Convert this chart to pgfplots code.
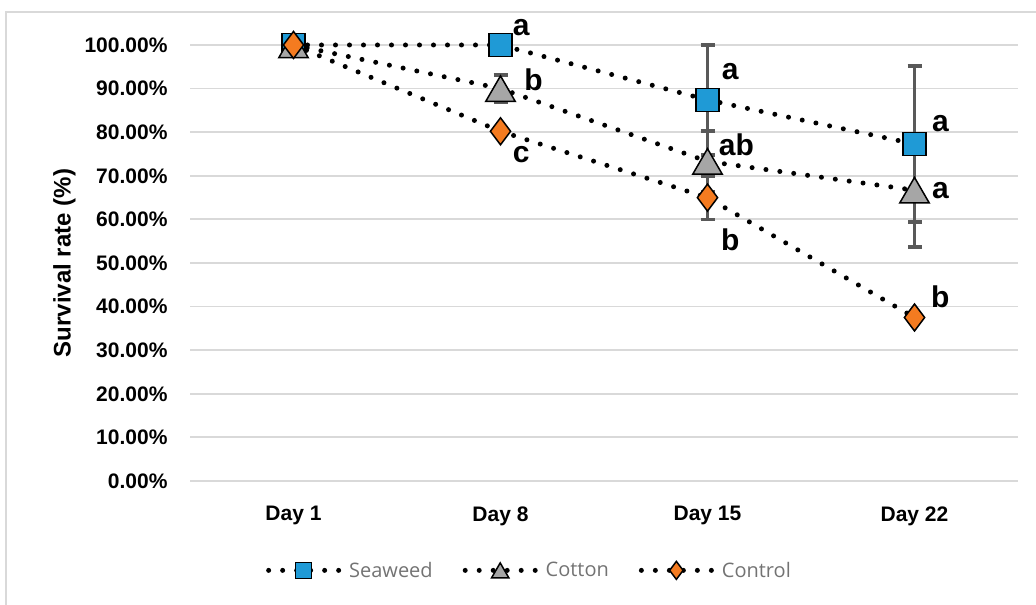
\documentclass[border=0pt]{standalone}
\usepackage{pgfplots}
\pgfplotsset{compat=1.18}
\usepackage{fontspec}
\setmainfont{Liberation Sans}
\newfontfamily\legfont{Open Sans}
\definecolor{seaw}{HTML}{1F9AD6}
\definecolor{cott}{HTML}{A6A6A6}
\definecolor{ctrl}{HTML}{F47B20}
\definecolor{errc}{HTML}{595959}
\definecolor{gridc}{HTML}{D9D9D9}
\definecolor{frame}{HTML}{D9D9D9}
\begin{document}
\begin{tikzpicture}[x=1pt,y=1pt]
\useasboundingbox (0,0) rectangle (1036,605);
\draw[frame, line width=1.5pt] (6,0) -- (6,593) -- (1036,593);
\begin{axis}[
  at={(190pt,124pt)}, anchor=south west,
  scale only axis, width=828pt, height=436pt,
  xmin=-0.5, xmax=3.5, ymin=0, ymax=100,
  clip=false,
  xtick={0,1,2,3}, xticklabels={Day 1,Day 8,Day 15,Day 22},
  ytick={0,10,...,100},
  yticklabel={\pgfmathprintnumber[fixed,fixed zerofill,precision=2]{\tick}\%},
  /pgf/number format/assume math mode=true,
  ticklabel style={font=\fontsize{21}{24}\selectfont\bfseries},
  xticklabel style={yshift=-22pt},
  yticklabel style={xshift=-19pt},
  major tick length=0pt,
  axis line style={draw=none},
  ymajorgrids, major grid style={gridc, line width=1.8pt},
  ylabel={Survival rate (\%)},
  ylabel style={font=\fontsize{24}{26}\selectfont\bfseries, yshift=2pt},
  legend style={at={(0.41,-0.205)}, anchor=center, draw=none, fill=none,
    font=\fontsize{20}{24}\selectfont\legfont\color{gray!90!black},
    legend columns=3, /tikz/every even column/.append style={column sep=28pt},
    /tikz/every odd column/.append style={column sep=4pt}},
  dotline/.style={black, line width=5pt, dash pattern=on 0pt off 14pt, line cap=round},
  errplot/.style={draw=none, mark=none, forget plot,
    error bars/.cd, y dir=both, y explicit,
    error bar style={errc, line width=3.5pt, solid},
    error mark options={rotate=90, errc, mark size=7pt, line width=3.5pt, solid}},
]
% error bars (drawn first, behind markers)
\addplot[errplot] coordinates {(0,100) +- (0,0) (1,100) +- (0,0) (2,87.4) +- (0,12.6) (3,77.3) +- (0,17.9)};
\addplot[errplot] coordinates {(0,100) +- (0,0) (1,90) +- (0,3.1) (2,73.3) +- (0,7) (3,66.7) +- (0,13)};
\addplot[errplot] coordinates {(0,100) +- (0,0) (1,80.2) +- (0,0) (2,65) +- (0,5) (3,37.5) +- (0,0)};
% series
\addplot[dotline, mark=square*, mark size=11.5pt, mark options={solid, fill=seaw, draw=black, line width=1.5pt},
  legend image code/.code={
    \draw[black, line width=5pt, dash pattern=on 0pt off 14pt, line cap=round] (0pt,0pt) -- (72pt,0pt);
    \draw[solid, fill=seaw, draw=black, line width=1.5pt] plot[mark=square*, mark size=8pt] coordinates {(35pt,0pt)};}]
 coordinates {(0,100) (1,100) (2,87.4) (3,77.3)};
\addlegendentry{Seaweed}
\addplot[dotline, mark=triangle*, mark size=17pt, mark options={solid, fill=cott, draw=black, line width=1.5pt, yshift=-4.25pt},
  legend image code/.code={
    \draw[black, line width=5pt, dash pattern=on 0pt off 14pt, line cap=round] (0pt,0pt) -- (72pt,0pt);
    \draw[solid, fill=cott, draw=black, line width=1.5pt] plot[mark=triangle*, mark size=10pt, mark options={yshift=-2.5pt}] coordinates {(35pt,0pt)};}]
 coordinates {(0,100) (1,90) (2,73.3) (3,66.7)};
\addlegendentry{Cotton}
\addplot[dotline, mark=diamond*, mark size=13.5pt, mark options={solid, fill=ctrl, draw=black, line width=1.5pt},
  legend image code/.code={
    \draw[black, line width=5pt, dash pattern=on 0pt off 14pt, line cap=round] (0pt,0pt) -- (72pt,0pt);
    \draw[solid, fill=ctrl, draw=black, line width=1.5pt] plot[mark=diamond*, mark size=9pt] coordinates {(35pt,0pt)};}]
 coordinates {(0,100) (1,80.2) (2,65) (3,37.5)};
\addlegendentry{Control}
\begin{scope}[every node/.style={font=\fontsize{30}{34}\selectfont\bfseries, inner sep=0pt}]
\node at (axis cs:1.1,104) {a};
\node at (axis cs:1.16,92) {b};
\node at (axis cs:1.1,74.8) {c};
\node at (axis cs:2.11,93.8) {a};
\node at (axis cs:2.14,77) {ab};
\node at (axis cs:2.11,55.3) {b};
\node at (axis cs:3.125,82) {a};
\node at (axis cs:3.125,66.7) {a};
\node at (axis cs:3.125,42.2) {b};
\end{scope}
\end{axis}
\end{tikzpicture}
\end{document}
